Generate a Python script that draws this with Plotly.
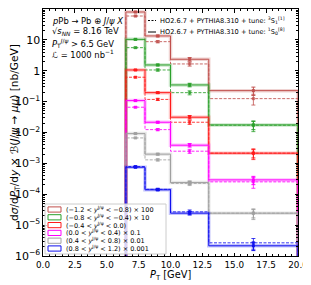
import plotly.graph_objects as go

# ---------------- data ----------------
bin_edges = [6.5, 8.0, 10.0, 13.0, 20.0]
bin_centers = [7.25, 9.0, 11.5, 16.5]

rap_labels = [
    "(−1.2 &lt; <i>y</i><sup>J/ψ</sup> &lt; −0.8) × 100",
    "(−0.8 &lt; <i>y</i><sup>J/ψ</sup> &lt; −0.4) × 10",
    "(−0.4 &lt; <i>y</i><sup>J/ψ</sup> &lt; 0.0)",
    "(0.0 &lt; <i>y</i><sup>J/ψ</sup> &lt; 0.4) × 0.1",
    "(0.4 &lt; <i>y</i><sup>J/ψ</sup> &lt; 0.8) × 0.01",
    "(0.8 &lt; <i>y</i><sup>J/ψ</sup> &lt; 1.2) × 0.001",
]
scales = [100, 10, 1, 0.1, 0.01, 0.001]
colors = ["#c0504d", "#2ca02c", "#ff1a1a", "#ff00ff", "#a0a0a0", "#1010ee"]

# 1S0[8] tune (solid), unscaled
solid_vals = [
    [0.80, 0.134, 0.0236, 0.00227],
    [1.04, 0.154, 0.0347, 0.00176],
    [1.06, 0.195, 0.0313, 0.00214],
    [1.08, 0.215, 0.0388, 0.00292],
    [0.92, 0.199, 0.0239, 0.00244],
    [0.75, 0.139, 0.0244, 0.00214],
]
# 3S1[1] tune (dashed), unscaled
dashed_vals = [
    [0.593, 0.0875, 0.0166, 0.00125],
    [0.559, 0.106, 0.0195, 0.00172],
    [0.617, 0.118, 0.0215, 0.00214],
    [0.659, 0.124, 0.0248, 0.00252],
    [0.668, 0.130, 0.0225, 0.00244],
    [0.79, 0.144, 0.0269, 0.00267],
]
# relative uncertainties per bin
solid_relerr = [0.04, 0.06, 0.13, 0.30]
dashed_relerr = [0.05, 0.08, 0.15, 0.38]

tune_labels = [
    "HO2.6.7 + PYTHIA8.310 + tune: <sup>3</sup>S<sub>1</sub><sup>[1]</sup>",
    "HO2.6.7 + PYTHIA8.310 + tune: <sup>1</sup>S<sub>0</sub><sup>[8]</sup>",
]
info_lines = [
    "<i>p</i>Pb → Pb ⊕ <i>J</i>/<i>ψ</i> <i>X</i>",
    "√<i>s</i><sub><i>NN</i></sub> = 8.16 TeV",
    "<i>P</i><sub>T</sub><sup><i>J</i>/<i>ψ</i></sup> &gt; 6.5 GeV",
    "ℒ = 1000 nb<sup>−1</sup>",
]
x_title = "<i>P</i><sub>T</sub> [GeV]"
y_title = "d<i>σ</i>/d<i>P</i><sub>T</sub>/d<i>y</i> × ℬ(<i>J</i>/<i>ψ</i> → <i>μμ</i>) [nb/GeV]"

# ---------------- layout constants ----------------
W, H = 311, 285
OFF = 8  # page body margin offset of the figure inside the window
# target plot area in window pixels
PL, PR, PT, PB = 43, 298, 9, 256
L, T = PL - OFF, PT - OFF
R, B = W - (PR - OFF), H - (PB - OFF)
PW, PH = PR - PL, PB - PT
FONT = "DejaVu Sans"
FLOOR = 1e-9


def px(xp):
    return (xp - PL) / PW


def py(yp):
    return (PB - yp) / PH


def rgba(hexc, a):
    hexc = hexc.lstrip("#")
    r, g, b = int(hexc[0:2], 16), int(hexc[2:4], 16), int(hexc[4:6], 16)
    return f"rgba({r},{g},{b},{a})"


fig = go.Figure()

step_x = [bin_edges[0]] + bin_edges + [bin_edges[-1]]

for i in range(len(scales)):
    c = colors[i]
    s = scales[i]
    sv = [v * s for v in solid_vals[i]]
    dv = [v * s for v in dashed_vals[i]]
    sy = [FLOOR] + sv + [sv[-1], FLOOR]
    dy = [FLOOR] + dv + [dv[-1], FLOOR]
    # translucent band for solid
    fig.add_trace(go.Scatter(x=step_x, y=sy, mode="lines", line_shape="hv",
                             line=dict(color=rgba(c, 0.25), width=3.5),
                             showlegend=False, hoverinfo="skip"))
    fig.add_trace(go.Scatter(x=step_x, y=sy, mode="lines", line_shape="hv",
                             line=dict(color=c, width=1), showlegend=False))
    fig.add_trace(go.Scatter(x=step_x, y=dy, mode="lines", line_shape="hv",
                             line=dict(color=rgba(c, 0.85), width=1, dash="3px,1.5px"),
                             showlegend=False))
    fig.add_trace(go.Scatter(
        x=bin_centers, y=sv, mode="markers",
        marker=dict(symbol="square", size=3, color=c),
        error_y=dict(type="data", array=[v * e for v, e in zip(sv, solid_relerr)],
                     color=c, thickness=1, width=2),
        showlegend=False))
    fig.add_trace(go.Scatter(
        x=bin_centers, y=dv, mode="markers",
        marker=dict(symbol="square", size=3, color=rgba(c, 0.8)),
        error_y=dict(type="data", array=[v * e for v, e in zip(dv, dashed_relerr)],
                     color=rgba(c, 0.8), thickness=1, width=2),
        showlegend=False))

shapes = []
annotations = []

# ---- rapidity legend (bottom-left) ----
box_l, box_r, box_t, box_b = 45, 166, 204, 254
shapes.append(dict(type="rect", xref="paper", yref="paper",
                   x0=px(box_l), x1=px(box_r), y0=py(box_b), y1=py(box_t),
                   fillcolor="rgba(255,255,255,0.8)",
                   line=dict(color="#cccccc", width=1), layer="above"))
row0, dr = 209.5, 7.8
for i, lab in enumerate(rap_labels):
    yc = row0 + i * dr
    shapes.append(dict(type="rect", xref="paper", yref="paper",
                       x0=px(48), x1=px(61), y0=py(yc + 2.6), y1=py(yc - 2.6),
                       fillcolor="rgba(255,255,255,0)",
                       line=dict(color=colors[i], width=1), layer="above"))
    annotations.append(dict(text=lab, xref="paper", yref="paper",
                            x=px(64), y=py(yc), xanchor="left", yanchor="middle",
                            showarrow=False, font=dict(family=FONT, size=6.5, color="black")))

# ---- tune legend (top-right) ----
tune_rows = [20.5, 32.0]
tune_dash = ["2px,1.5px", "solid"]
for j, lab in enumerate(tune_labels):
    yc = tune_rows[j]
    shapes.append(dict(type="line", xref="paper", yref="paper",
                       x0=px(148), x1=px(156), y0=py(yc), y1=py(yc),
                       line=dict(color="black", width=1, dash=tune_dash[j]), layer="above"))
    annotations.append(dict(text=lab, xref="paper", yref="paper",
                            x=px(158), y=py(yc), xanchor="left", yanchor="middle",
                            showarrow=False, font=dict(family=FONT, size=6.6, color="black")))

# ---- info text (top-left) ----
info_rows = [20.5, 32.0, 43.5, 54.5]
for yc, line in zip(info_rows, info_lines):
    annotations.append(dict(text=line, xref="paper", yref="paper",
                            x=px(50), y=py(yc), xanchor="left", yanchor="middle",
                            showarrow=False, font=dict(family=FONT, size=8.4, color="black")))

# ---- x-axis title ----
annotations.append(dict(text=x_title, xref="paper", yref="paper",
                        x=0.5, y=py(275), xanchor="center", yanchor="middle",
                        showarrow=False, font=dict(family=FONT, size=9.8, color="black")))

fig.update_layout(
    width=W, height=H,
    margin=dict(l=L, r=R, t=T, b=B, pad=0, autoexpand=False),
    paper_bgcolor="white", plot_bgcolor="white",
    font=dict(family=FONT, size=8, color="black"),
    showlegend=False,
    shapes=shapes, annotations=annotations,
)
fig.update_xaxes(
    range=[0, 20], dtick=2.5, tick0=0, tickformat=".1f", automargin=False,
    ticks="inside", ticklen=3.5, tickwidth=0.8, tickcolor="black",
    minor=dict(ticks="inside", ticklen=2, dtick=0.5, tickcolor="black"),
    showline=True, linecolor="black", linewidth=1, mirror="allticks",
    showgrid=False, zeroline=False,
    tickfont=dict(family=FONT, size=8.8),
)
fig.update_yaxes(
    type="log", range=[-6, 2], dtick=1, exponentformat="power", automargin=False,
    ticks="inside", ticklen=3.5, tickwidth=0.8, tickcolor="black",
    minor=dict(ticks="inside", ticklen=2, dtick="D1", tickcolor="black"),
    showline=True, linecolor="black", linewidth=1, mirror="allticks",
    showgrid=False, zeroline=False,
    tickfont=dict(family=FONT, size=8.8),
    title=dict(text=y_title, font=dict(family=FONT, size=10.6), standoff=2),
)

fig.write_html("out.html")
